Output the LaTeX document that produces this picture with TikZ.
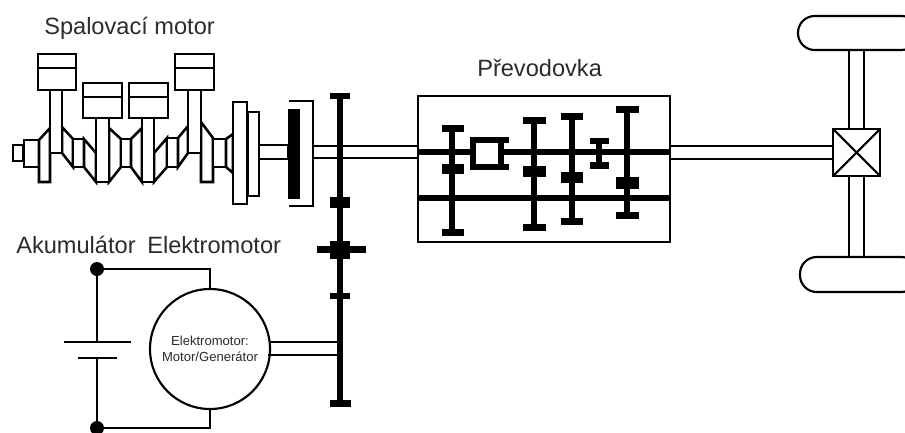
\documentclass[tikz,border=0pt]{standalone}
\usepackage{fontspec}
\setmainfont{Liberation Sans}
\definecolor{lbl}{HTML}{2B2B2B}
\tikzset{
  part/.style={draw=black,fill=white,line width=1.9pt,line join=miter},
  thinwire/.style={draw=black,line width=1.6pt},
  thickshaft/.style={draw=black,line width=4.6pt},
  blk/.style={fill=black},
  biglabel/.style={text=lbl,font=\fontsize{17.7pt}{20pt}\selectfont,inner sep=0pt,anchor=base west},
  smalllabel/.style={text=lbl,font=\fontsize{9.8pt}{11.8pt}\selectfont,align=center,inner sep=0pt},
  termdot/.style={circle,fill=black,minimum size=10.5pt,inner sep=0pt,outer sep=0pt},
  boxnode/.style={draw=black,fill=white,line width=1.6pt,inner sep=0pt,outer sep=0pt},
  wheel/.style={draw=black,fill=white,line width=1.6pt,rounded corners=12.5pt}
}
\begin{document}
\begin{tikzpicture}[x=0.75pt,y=-0.75pt]
\clip (0,0) rectangle (905,432);
% --- engine
\draw[part] (13,145) rectangle (23,161);
\draw[part] (24,140) rectangle (39,167);
\draw[part] (39,140) -- (50,128) -- (50,182) -- (39,182) -- cycle;
\draw[part] (62,127) -- (73,139) -- (73,167) -- (62,153) -- cycle;
\draw[part] (73,139) rectangle (84,167);
\draw[part] (84,139) -- (96,153) -- (96,182) -- (84,167) -- cycle;
\draw[part] (109,128) -- (121,139) -- (121,167) -- (109,182) -- cycle;
\draw[part] (121,139) rectangle (131,167);
\draw[part] (131,139) -- (142,128) -- (142,182) -- (131,167) -- cycle;
\draw[part] (154,153) -- (167,138) -- (167,167) -- (154,182) -- cycle;
\draw[part] (167,138) rectangle (178,167);
\draw[part] (178,138) -- (188,126) -- (188,153) -- (178,167) -- cycle;
\draw[part] (201,122) -- (213,138) -- (213,182) -- (201,182) -- cycle;
\draw[part] (213,139) rectangle (226,167);
\draw[part] (226,139) -- (233,134) -- (233,173) -- (226,167) -- cycle;
% rods and pistons
\draw[part] (50,90) rectangle (62,153);
\draw[part] (96,118) rectangle (109,182);
\draw[part] (142,118) rectangle (154,182);
\draw[part] (188,90) rectangle (201,153);
\foreach \xa/\xb/\yt/\ym/\yb in {38/76/54/68/90, 83/122/83/97/118, 129/168/83/97/118, 175/214/54/68/90}{
  \draw[part] (\xa,\yt) rectangle (\xb,\yb);
  \draw[part] (\xa,\ym) -- (\xb,\ym);
}
% flywheel and clutch
\draw[part] (233,102) rectangle (247,204);
\draw[part] (248,112) rectangle (259,196);
\draw[part] (259,145) rectangle (288,159);
\fill[blk] (288,109) rectangle (300,199);
\draw[thinwire] (289,101) -- (313,101) -- (313,206) -- (289,206);
% --- gearbox
\node[boxnode,minimum width=189pt,minimum height=109.5pt] (gearbox) at (544,169) {};
\coordinate (shaftA) at (313,146);
\coordinate (shaftB) at (313,158);
\draw[thinwire] (shaftA) -- (shaftA -| gearbox.west);
\draw[thinwire] (shaftB) -- (shaftB -| gearbox.west);
\draw[thickshaft] (gearbox.west |- 0,152) -- (472,152);
\draw[thickshaft] (504,152) -- (gearbox.east |- 0,152);
\draw[thickshaft] (gearbox.west |- 0,198) -- (gearbox.east |- 0,198);
% gears: centre, cap left, cap right, top y, block top, block bottom, bottom y
\foreach \c/\l/\r/\t/\ba/\bb/\e in {452/442/464/125/164/174/236, 534/523/546/117/166/177/231, 572/561/583/113/172/183/225, 627/616/639/106/177/189/219}{
  \fill[blk] (\c-3.2,\t) rectangle (\c+3.2,\e);
  \fill[blk] (\l,\t) rectangle (\r,\t+7);
  \fill[blk] (\l,\ba) rectangle (\r,\bb);
  \fill[blk] (\l,\e-7) rectangle (\r,\e);
}
\fill[blk] (596,138) rectangle (602,169);
\fill[blk] (590,138) rectangle (609,144);
\fill[blk] (590,162) rectangle (609,169);
% synchroniser
\fill[blk] (470,137) rectangle (509,143);
\fill[blk] (470,164) rectangle (509,170);
\fill[blk] (470,137) rectangle (476,170);
\fill[blk] (498,137) rectangle (504,170);
% --- transfer shaft
\fill[blk] (337,93) rectangle (343,404);
\fill[blk] (330,93) rectangle (350,99);
\fill[blk] (330,197) rectangle (350,208);
\fill[blk] (330,241) rectangle (350,259);
\fill[blk] (317,246) rectangle (366,253);
\fill[blk] (330,293) rectangle (350,299);
\fill[blk] (330,400) rectangle (351,407);
% --- motor / generator and battery
\node[boxnode,circle,minimum size=90pt,smalllabel,draw=black,text=lbl] (emg) at (210,349) {\raisebox{-1pt}{\parbox{3cm}{\centering Elektromotor:\\Motor/Generátor}}};
\node[termdot] (dotT) at (97,269) {};
\node[termdot] (dotB) at (97,428) {};
\coordinate (plateT) at (97,342);
\coordinate (plateB) at (97,358);
\coordinate (plateTL) at (64,342);
\coordinate (plateTR) at (131,342);
\coordinate (plateBL) at (78,358);
\coordinate (plateBR) at (117,358);
\coordinate (gearM) at (337,342);
\coordinate (gearN) at (337,355);
\draw[thinwire] (dotT) -- (plateT);
\draw[thinwire] (dotB) -- (plateB);
\draw[thinwire] (plateTL) -- (plateTR);
\draw[thinwire] (plateBL) -- (plateBR);
\draw[thinwire] (dotT) -| (emg.north);
\draw[thinwire] (dotB) -| (emg.south);
\draw[thinwire] (emg.east |- gearM) ++(-1,0) -- (gearM);
\draw[thinwire] (emg.east |- gearN) ++(-2,0) -- (gearN);
% --- final drive and wheels
\node[boxnode,minimum width=35.25pt,minimum height=35.25pt] (diff) at (856.5,152.5) {};
\draw[thinwire] (diff.north west) -- (diff.south east);
\draw[thinwire] (diff.north east) -- (diff.south west);
\coordinate (outA) at (670,146);
\coordinate (outB) at (670,159);
\draw[thinwire] (outA) -- (outA -| diff.west);
\draw[thinwire] (outB) -- (outB -| diff.west);
\draw[wheel] (798,16) rectangle (918,50);
\draw[wheel] (800,257) rectangle (918,292);
\draw[thinwire] (849,50) -- (849,129);
\draw[thinwire] (864,50) -- (864,129);
\draw[thinwire] (849,176) -- (849,257);
\draw[thinwire] (864,176) -- (864,257);
% --- labels
\node[biglabel] (lblEngine) at (44,34) {Spalovací motor};
\node[biglabel] (lblBox) at (477,76) {Převodovka};
\node[biglabel] (lblBatt) at (16,253) {Akumulátor};
\node[biglabel] (lblMotor) at (147,253) {Elektromotor};
\end{tikzpicture}
\end{document}
